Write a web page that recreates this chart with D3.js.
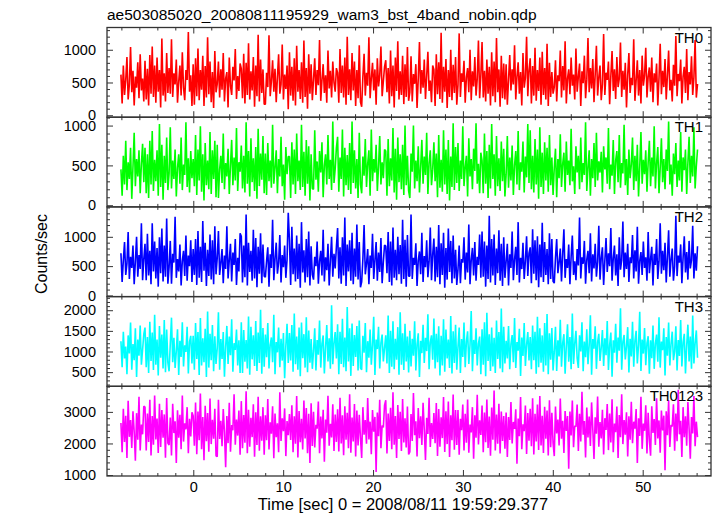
<!DOCTYPE html>
<html><head><meta charset="utf-8">
<script src="https://cdn.jsdelivr.net/npm/d3@7"></script>
<style>
body{margin:0;background:#fff}
svg{display:block}
text{font-family:"Liberation Sans",Arial,Helvetica,sans-serif;fill:#000}
</style>
</head><body>
<svg id="chart" width="717" height="516"></svg>
<script>
// ---- data (read / estimated from the reference) ----
const titleText = "ae503085020_20080811195929_wam3_bst_4band_nobin.qdp";
const xLabelText = "Time [sec] 0 = 2008/08/11 19:59:29.377";
const yLabelText = "Counts/sec";
const panelNames = ["TH0", "TH1", "TH2", "TH3", "TH0123"];
const xTickValues = [0, 10, 20, 30, 40, 50];
const timeStart = -8.05, timeEnd = 56.1;

const th0 = [
620,180,760,310,540,890,240,470,1040,350,680,150,590,420,810,260,930,380,560,210,
830,240,710,150,920,330,1050,280,760,190,880,360,690,120,1170,300,640,210,950,340,
720,330,1160,280,640,470,850,190,510,760,300,960,420,230,690,540,1270,360,610,140,
780,160,870,290,1020,230,690,390,910,140,750,270,1190,320,820,200,660,110,980,350,
480,820,270,700,390,950,210,560,660,120,880,450,310,740,530,1010,250,600,370,790,
710,260,940,180,800,310,1100,240,670,380,890,130,760,290,1230,210,850,340,700,170,
170,650,430,1220,290,520,840,360,710,200,580,930,330,470,1080,240,620,400,760,90,
960,300,740,220,870,150,1060,360,690,250,810,190,1140,280,720,100,930,330,780,230,
550,870,310,690,460,1150,220,530,780,340,610,190,990,410,680,270,820,500,360,720,
650,190,1010,340,760,270,880,160,1200,310,700,230,950,380,820,140,690,260,1070,200,
130,590,940,300,650,450,1190,260,560,800,380,700,160,870,440,610,1050,290,520,740,
840,350,720,180,990,290,760,120,880,370,1130,240,670,310,910,170,780,280,1040,220,
350,900,210,630,480,780,110,560,1120,330,690,420,850,250,600,970,370,530,200,760,
700,140,930,320,810,250,1260,190,740,360,860,110,690,280,1000,230,770,340,890,160,
460,1250,280,640,510,830,190,580,720,350,1000,230,670,440,890,300,560,1140,260,610,
1120,270,680,210,850,330,740,150,960,290,820,200,1180,350,700,130,910,260,790,240,
780,160,540,920,380,700,470,1070,240,590,810,330,660,150,950,420,570,1200,290,690,
870,180,750,300,1030,220,690,370,880,160,970,310,720,240,1090,140,800,280,660,330,
430,840,210,610,520,990,270,750,380,1130,180,560,700,320,880,450,620,240,1020,360,
590,790,140,670,490,910,260,540,1180,350,720,410,860,200,630,1060,300,580,760,230,
470,1240,310,650,540,820,170,600,980,370,700,250,890,430,560,1110,280,680,390,800,
120,620,950,340,570,460,1160,220,530,840,300,690,180,910,450,610,1030,270,590,730,
360,880,200,640,500,790,150,570,1090,320,680,430,860,240,610,990,380,540,210,770,
450,1210,290,630,520,850,180,590,740,340,1010,230,660,470,900,310,580,1150,270,480];

const th1 = [
450,120,620,260,810,190,540,330,720,80,480,910,240,580,360,690,150,520,770,290,
720,150,640,90,810,260,930,180,570,300,690,120,1020,230,760,70,620,280,850,190,
400,980,210,560,330,700,110,470,640,270,850,190,510,380,1040,230,590,160,680,340,
580,240,880,130,700,310,990,170,640,60,780,250,560,200,920,140,690,330,810,100,
760,90,450,620,280,900,200,530,360,710,140,490,820,250,600,310,970,180,540,420,
750,210,620,160,1040,270,680,110,840,290,590,180,730,80,960,240,650,320,870,150,
650,130,780,300,560,220,1010,270,470,690,150,580,360,860,240,510,70,730,390,610,
610,90,790,260,700,140,900,300,560,190,1010,230,670,120,820,270,740,60,640,210,
200,940,320,550,170,680,410,790,100,500,640,260,880,330,570,190,1050,280,460,720,
860,170,600,330,950,110,720,250,630,190,780,140,1050,280,690,210,580,90,910,260,
150,610,370,830,230,520,690,120,950,300,580,410,760,180,490,870,260,540,340,700,
680,120,830,240,590,310,970,160,710,70,850,290,640,200,760,130,1000,250,620,180,
90,650,420,1000,210,560,300,740,160,480,820,270,610,380,910,140,530,690,250,450,
790,300,650,100,880,220,570,170,940,260,700,140,820,60,610,230,1030,190,730,280,
780,180,560,330,990,240,470,620,110,840,360,580,200,710,430,1030,270,520,150,660,
560,150,900,270,680,90,760,210,1020,330,640,120,870,240,590,180,800,300,710,110,
390,870,220,600,310,750,130,500,680,260,930,190,540,420,800,160,610,350,1020,280,
940,200,620,160,830,260,700,80,980,230,660,140,790,310,720,170,880,250,600,130,
470,710,100,580,340,890,230,520,660,170,800,380,560,250,960,300,490,140,740,410,
620,200,850,290,530,380,1040,180,470,690,120,580,340,780,230,910,310,550,410,670,
160,740,450,600,270,970,200,510,370,820,140,560,680,290,880,220,530,400,1010,250,
580,130,700,340,510,850,190,620,300,760,110,480,920,270,570,390,690,170,540,810,
240,600,360,990,210,530,730,150,470,840,290,580,200,700,430,1050,260,510,120,650,
390,780,230,560,310,920,170,600,440,700,140,530,860,280,620,360,980,210,490,700];

const th2 = [
720,230,600,910,350,540,1080,280,660,470,850,190,580,1000,320,690,450,1230,260,620,
880,260,1050,340,760,190,1230,410,920,290,810,150,990,380,1140,240,850,320,1310,200,
480,930,200,710,560,1340,300,620,410,870,170,590,760,330,1020,250,680,500,940,230,
790,350,960,180,1100,300,830,230,1270,420,900,160,780,330,1040,270,940,190,1180,360,
640,1100,350,560,790,210,680,450,1180,290,600,880,240,730,520,960,180,640,410,1060,
1010,220,850,310,1380,170,900,400,760,250,1120,290,980,140,830,370,1060,210,870,330,
310,590,820,150,700,470,1290,260,620,900,370,560,1030,220,690,480,850,300,610,1410,
930,180,1170,360,800,240,1020,280,880,130,1250,390,770,220,960,310,1090,170,840,350,
270,660,500,920,200,580,760,340,1120,240,650,430,880,170,590,1000,320,710,460,830,
1150,290,820,200,990,340,1330,160,870,410,940,250,1070,190,800,320,1210,270,910,140,
230,620,1200,360,540,790,190,680,470,1050,280,600,910,250,730,400,980,210,570,860,
840,380,1080,230,920,170,1160,300,780,260,1000,360,860,200,1290,280,950,150,1030,330,
330,1380,280,640,520,890,160,600,750,360,1070,230,670,480,940,310,580,1160,260,700,
970,240,830,310,1200,190,890,350,1070,130,810,270,1140,400,930,210,1020,290,780,180,
440,850,210,620,560,990,270,730,390,1210,190,600,810,340,910,250,660,520,1040,300,
1090,320,920,150,850,280,1360,220,960,340,1040,180,800,380,1110,250,880,160,990,300,
580,880,170,700,470,1090,260,610,830,350,1250,220,640,450,900,280,590,1010,330,720,
820,210,1130,370,940,260,1010,140,870,310,1240,230,910,350,790,190,1060,280,960,240,
210,640,960,380,560,800,240,710,1130,300,620,470,870,190,660,1020,350,580,260,790,
510,1330,290,650,540,930,200,610,760,380,1060,240,700,460,880,320,570,1190,270,640,
820,180,590,980,400,720,500,1150,250,630,850,340,700,160,990,440,600,1260,310,730,
450,880,230,650,550,1030,290,770,410,1170,200,590,740,350,920,470,650,250,1080,380,
620,830,170,710,520,960,280,580,1230,370,760,430,900,220,660,1110,320,610,800,250,
500,1360,330,680,560,870,210,640,1010,390,740,270,930,460,600,1190,290,720,420,840];

const th3 = [
1250,620,1480,830,1120,450,1390,950,1700,560,1180,790,1560,380,1290,900,1630,680,1050,1420,
1580,620,1350,480,1720,770,1460,550,1890,680,1290,420,1620,850,1410,590,1760,500,1530,730,
520,1190,1820,740,1330,600,1010,1540,430,1260,870,1710,640,1150,990,1600,470,1240,1380,710,
1380,560,1690,820,1470,430,1810,660,1320,740,1550,380,1970,610,1430,790,1640,520,1370,700,
1080,1950,560,1300,820,1470,390,1120,1620,700,1360,910,1780,510,1200,1040,1530,660,1270,480,
1710,480,1520,750,1280,590,1850,440,1600,810,1390,650,1740,530,1460,720,2010,460,1570,630,
1410,860,1690,590,1160,1340,740,1890,450,1230,980,1580,620,1310,780,1450,350,1140,1670,720,
1450,780,1640,510,1920,690,1360,560,1580,400,1700,840,1420,610,1830,500,1510,730,1300,580,
1020,1560,540,1280,920,1750,610,1190,1390,470,1100,1640,760,1320,580,2120,690,1200,1470,830,
1660,450,1480,700,1790,620,1340,520,2080,760,1560,410,1680,650,1400,870,1620,540,1750,600,
560,1380,970,1690,500,1250,850,1530,680,1160,1840,430,1290,1060,1600,590,1210,1410,760,1080,
1390,710,1870,480,1500,630,1730,570,1310,800,1590,440,1950,680,1440,550,1670,760,1360,490,
1500,640,1310,900,1730,540,1170,1440,380,1260,960,1650,720,1330,1010,1900,570,1220,1390,800,
1800,590,1430,740,1610,420,1380,660,1780,510,1530,830,1290,600,1860,470,1490,720,1650,560,
1110,1580,480,1300,870,1700,620,1240,1490,700,1150,1980,520,1280,940,1560,660,1190,1360,450,
1540,680,1710,400,1940,770,1420,530,1580,640,1330,480,1750,820,1470,590,2040,500,1600,710,
1260,830,1620,570,1180,1400,740,1810,600,1230,1020,1550,410,1340,890,1690,650,1170,1470,780,
1350,570,1630,790,1480,460,1840,620,1560,730,1390,510,1690,660,1910,450,1440,800,1570,540,
990,1600,530,1270,880,1770,630,1210,1420,460,1130,1660,750,1350,570,1920,700,1190,1500,840,
600,1390,1000,1710,520,1240,860,1540,690,1150,1880,440,1300,1070,1610,580,1220,1430,770,1090,
1520,650,1320,910,1740,550,1160,1460,390,1270,970,1670,730,1340,1020,2050,560,1230,1400,810,
1120,1590,490,1310,880,1720,630,1250,1500,710,1160,1960,530,1290,950,1570,670,1200,1370,460,
1270,840,1630,580,1190,1410,750,1830,610,1240,1030,1560,420,1350,900,1700,660,1180,1480,790,
1000,1610,540,1280,890,1760,640,1220,1430,470,1140,1650,760,1360,580,1870,710,1200,1510,850];

const th0123 = [
2650,1720,3100,2050,2880,1540,3350,2210,2740,1860,3020,2380,1450,2960,2120,3480,1780,2600,2290,3180,
3150,1780,2950,2050,3380,1620,2870,1960,3520,2130,2790,1700,3260,1890,3060,2180,2920,1550,3440,2010,
1950,2820,1620,3260,2330,2700,1380,3050,2180,2910,1820,3520,2060,2640,2450,3150,1690,2780,2220,2990,
2880,1930,3300,1660,3010,2100,3580,1820,2840,1470,3190,2070,2960,1740,3420,1980,2750,2150,3100,1610,
1580,3380,2140,2720,1910,3090,2360,1250,2870,2010,3290,1740,2580,2420,3560,1960,2760,2250,3040,1640,
3340,1850,2900,2020,3650,1690,3070,1900,2810,2200,3240,1580,2990,1950,3480,1770,2860,2090,3150,1640,
2890,2100,3410,1810,2670,2310,3180,1530,2950,2200,2640,1720,3620,2080,2800,2390,3110,1600,2710,2260,
2930,2110,3210,1720,2860,1990,3500,1560,3030,2040,2780,1810,3360,2160,3120,1690,2940,1380,3270,1920,
3000,1870,2590,2470,3330,1690,2850,2160,3070,1420,2760,2340,3510,1930,2620,2190,3240,1760,2920,2050,
3080,1750,3450,2000,2890,1630,3180,2120,2970,1850,3560,1710,2820,2060,3250,1590,3040,1940,2910,2190,
1540,3150,2280,2740,1990,3440,2130,2690,1660,3060,2370,2840,1100,2980,2230,3380,1850,2570,2510,3210,
3370,1680,2950,2080,3130,1820,3620,1960,2870,1540,3220,2140,3000,1760,3410,2030,2800,1870,3170,1650,
1730,2930,2080,3600,2260,2700,1590,3120,2170,2860,1950,3290,2440,1480,2810,2300,3450,1890,2650,2140,
2960,2010,3280,1600,3090,1900,2830,2170,3470,1730,3020,1980,3330,1570,2890,2100,3550,1800,3060,1950,
3060,1640,2780,2420,3230,1780,2940,2020,3390,1710,2600,2350,3150,1520,2890,2180,3540,1970,2730,2270,
3200,1720,2980,2040,3390,1860,2850,1610,3140,2120,3680,1780,2920,1990,3260,1680,3010,2080,2870,1830,
2980,1570,2840,2110,3310,2000,2680,2460,3080,1360,2790,2230,3470,1820,2610,2390,3200,1670,2960,2090,
3100,1910,3430,1650,2940,2060,3230,1790,3500,1940,2880,1700,3160,2150,3040,1620,3370,1880,2970,2020,
1600,3170,2320,2760,1940,3420,2150,2720,1700,3030,2400,2870,1200,3010,2250,3360,1880,2560,2530,3230,
1760,2940,2060,3640,2280,2710,1560,3140,2190,2850,1920,3300,2460,1510,2830,2310,3490,1900,2680,2160,
3070,1650,2800,2430,3250,1790,2950,2030,3400,1720,2630,2360,3170,1540,2900,2200,3560,1980,2740,2280,
2990,1590,2860,2120,3320,2010,2690,2470,3090,1380,2800,2240,3480,1830,2630,2400,3210,1680,2970,2100,
1610,3180,2330,2770,1950,3430,2160,2730,1710,3040,2410,2880,1150,3020,2260,3370,1890,2580,2540,3240,
1770,2950,2070,3700,2290,2720,1570,3150,2200,2860,1930,3310,2470,1520,2840,2320,3500,1910,2690,2200];

const seriesList = [th0, th1, th2, th3, th0123];
const colors = ["#ff0000", "#00ff00", "#0000ff", "#00ffff", "#ff00ff"];
const yDomains = [[-30, 1340], [-21, 1105], [-20, 1510], [157, 2330], [970, 3810]];
const yMajorTicks = [[0, 500, 1000], [0, 500, 1000], [0, 500, 1000], [500, 1000, 1500, 2000], [1000, 2000, 3000]];
const yMinorStep = [100, 100, 100, 100, 200];

// ---- layout ----
const plotLeft = 107, plotRight = 711, plotTop = 27.5, plotBottom = 476;
const nP = seriesList.length;
const pH = (plotBottom - plotTop) / nP;
const frameColor = "#333";

const svg = d3.select("#chart");
const x = d3.scaleLinear().domain([-9.6, 57.6]).range([plotLeft, plotRight]);
const xMinor = d3.range(-8, 58, 2).filter(v => v % 10 !== 0);

seriesList.forEach((vals, i) => {
  const y0 = plotTop + i * pH, y1 = y0 + pH;
  const y = d3.scaleLinear().domain(yDomains[i]).range([y1, y0]);
  const n = vals.length;
  const tAt = k => timeStart + k * (timeEnd - timeStart) / (n - 1);

  const g = svg.append("g");
  g.append("clipPath").attr("id", "clip" + i)
    .append("rect").attr("x", plotLeft).attr("y", y0).attr("width", plotRight - plotLeft).attr("height", pH);

  const line = d3.line().x((d, k) => x(tAt(k))).y(d => y(d));
  g.append("path").datum(vals)
    .attr("clip-path", `url(#clip${i})`)
    .attr("fill", "none").attr("stroke", colors[i])
    .attr("stroke-width", 1.6).attr("stroke-linejoin", "bevel")
    .attr("d", line);

  const [dlo, dhi] = yDomains[i];
  const minorY = d3.range(Math.ceil(dlo / yMinorStep[i]) * yMinorStep[i], dhi, yMinorStep[i])
    .filter(v => !yMajorTicks[i].includes(v));

  const styleAxis = sel => {
    sel.select(".domain").remove();
    sel.selectAll(".tick line").attr("stroke", frameColor).attr("stroke-width", 1);
    sel.selectAll("text").style("font-size", "14.5px").style("font-family", '"Liberation Sans",Arial,sans-serif').attr("fill", "#000");
  };

  g.append("g").attr("transform", `translate(${plotLeft},0)`)
    .call(d3.axisLeft(y).tickValues(yMajorTicks[i]).tickSize(-6).tickPadding(11).tickFormat(d3.format("d")))
    .call(styleAxis);
  g.append("g").attr("transform", `translate(${plotLeft},0)`)
    .call(d3.axisLeft(y).tickValues(minorY).tickSize(-3).tickFormat(""))
    .call(styleAxis);
  g.append("g").attr("transform", `translate(${plotRight},0)`)
    .call(d3.axisRight(y).tickValues(yMajorTicks[i]).tickSize(-6).tickFormat(""))
    .call(styleAxis);
  g.append("g").attr("transform", `translate(${plotRight},0)`)
    .call(d3.axisRight(y).tickValues(minorY).tickSize(-3).tickFormat(""))
    .call(styleAxis);
  g.append("g").attr("transform", `translate(0,${y0})`)
    .call(d3.axisTop(x).tickValues(xTickValues).tickSize(-6).tickFormat(""))
    .call(styleAxis);
  g.append("g").attr("transform", `translate(0,${y0})`)
    .call(d3.axisTop(x).tickValues(xMinor).tickSize(-3).tickFormat(""))
    .call(styleAxis);
  const isLast = i === nP - 1;
  g.append("g").attr("transform", `translate(0,${y1})`)
    .call(d3.axisBottom(x).tickValues(xTickValues).tickSize(-6).tickPadding(6)
      .tickFormat(isLast ? d3.format("d") : ""))
    .call(styleAxis);
  g.append("g").attr("transform", `translate(0,${y1})`)
    .call(d3.axisBottom(x).tickValues(xMinor).tickSize(-3).tickFormat(""))
    .call(styleAxis);

  g.append("rect").attr("x", plotLeft).attr("y", y0).attr("width", plotRight - plotLeft).attr("height", pH)
    .attr("fill", "none").attr("stroke", frameColor).attr("stroke-width", 1.3);

  g.append("text").attr("x", 703).attr("y", y0 + 15)
    .attr("text-anchor", "end").style("font-size", "15px").text(panelNames[i]);
});

svg.append("text").attr("x", 107).attr("y", 20).style("font-size", "15.5px").text(titleText);
svg.append("text").attr("x", 403).attr("y", 510).attr("text-anchor", "middle").style("font-size", "16.5px").text(xLabelText);
svg.append("text").attr("transform", "translate(47,254) rotate(-90)").attr("text-anchor", "middle")
  .style("font-size", "16px").text(yLabelText);
</script>
</body></html>
